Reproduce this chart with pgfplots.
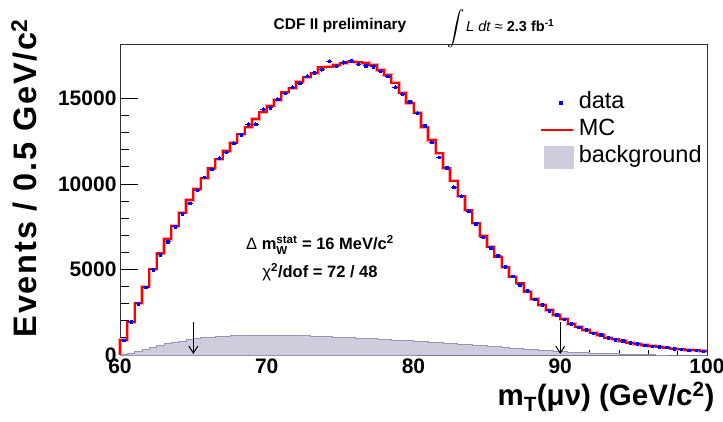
\documentclass[border=0pt]{standalone}
\usepackage{fontspec}
\setmainfont{Liberation Sans}
\usepackage{amsmath}
\usepackage{pgfplots}
\pgfplotsset{compat=1.18}
\usetikzlibrary{arrows.meta}
\definecolor{bgfill}{RGB}{205,205,222}
\definecolor{bgdraw}{RGB}{150,150,180}
\definecolor{datablue}{RGB}{0,0,255}
\begin{document}
\begin{tikzpicture}
\useasboundingbox (-120pt,-66pt) rectangle (603pt,355pt);
\begin{axis}[
  scale only axis, width=587pt, height=310.5pt,
  xmin=60, xmax=100, ymin=0, ymax=18150,
  xtick={60,70,80,90,100}, minor x tick num=4,
  ytick={0,5000,10000,15000}, minor y tick num=4,
  tick align=inside, tick pos=left,
  xtick style={/pgfplots/major tick length=9.3pt,/pgfplots/minor tick length=4.65pt},
  ytick style={/pgfplots/major tick length=17.6pt,/pgfplots/minor tick length=8.8pt},
  every tick/.style={black, line width=0.8pt},
  axis line style={black!80, line width=0.9pt},
  scaled ticks=false,
  /pgf/number format/set thousands separator={},
  /pgf/number format/assume math mode=true,
  ticklabel style={font=\fontsize{21}{21}\selectfont\bfseries},
  xlabel={\textbf{m$_{\text{\textbf{T}}}$(μν) (GeV/c$^{\text{\textbf{2}}}$)}},
  ylabel={\addfontfeature{LetterSpace=5.5}\textbf{Events / 0.5 GeV/c$^{\text{\textbf{2}}}$}},
  xlabel style={font=\fontsize{29.5}{29.5}\selectfont, at={(axis description cs:1.0187,-0.135)}, anchor=east},
  ylabel style={font=\fontsize{32.5}{32.5}\selectfont, at={(axis description cs:-0.1635,1.097)}, anchor=east},
  clip=false,
  legend style={at={(rel axis cs:0.7155,0.849)}, anchor=north west, draw=none, fill=none,
    inner sep=0pt, row sep=4pt, font=\fontsize{23.5}{23.5}\selectfont,
    nodes={inner sep=1pt, text height=16pt, text depth=5pt},
    /tikz/every even column/.append style={column sep=0pt}},
  legend cell align=left,
]
% background
\addplot[const plot mark left, fill=bgfill, draw=bgdraw, line width=0.6pt, forget plot] table {
60 40
60.5 100
61 200
61.5 330
62 450
62.5 570
63 660
63.5 740
64 820
64.5 900
65 960
65.5 1010
66 1050
66.5 1080
67 1110
67.5 1130
68 1150
68.5 1160
69 1170
69.5 1170
70 1170
70.5 1165
71 1160
71.5 1150
72 1140
72.5 1130
73 1110
73.5 1090
74 1070
74.5 1050
75 1030
75.5 1010
76 990
76.5 970
77 950
77.5 930
78 905
78.5 880
79 860
79.5 835
80 810
80.5 780
81 750
81.5 720
82 690
82.5 660
83 630
83.5 600
84 570
84.5 540
85 510
85.5 480
86 450
86.5 420
87 390
87.5 360
88 320
88.5 290
89 260
89.5 230
90 210
90.5 180
91 160
91.5 140
92 120
92.5 105
93 90
93.5 80
94 70
94.5 60
95 50
95.5 40
96 25
96.5 10
97 0
97.5 0
98 0
98.5 0
99 0
99.5 0
100 0
} \closedcycle;
% MC (halo + line)
\pgfplotstableread{
x y
60 0
60 877
60.5 1910
61 3020
61.5 3990
62 5010
62.5 5940
63 6780
63.5 7540
64 8320
64.5 9060
65 9700
65.5 10330
66 10910
66.5 11440
67 11920
67.5 12410
68 12900
68.5 13310
69 13790
69.5 14180
70 14570
70.5 14900
71 15350
71.5 15590
72 15970
72.5 16230
73 16460
73.5 16810
74 16850
74.5 16950
75 17050
75.5 17140
76 17100
76.5 17080
77 16950
77.5 16660
78 16370
78.5 15920
79 15330
79.5 14710
80 14160
80.5 13310
81 12570
81.5 11790
82 10910
82.5 10200
83 9270
83.5 8450
84 7700
84.5 6950
85 6330
85.5 5750
86 5120
86.5 4580
87 4190
87.5 3700
88 3270
88.5 2920
89 2630
89.5 2340
90 2100
90.5 1810
91 1650
91.5 1460
92 1300
92.5 1170
93 1010
93.5 920
94 820
94.5 720
95 640
95.5 580
96 530
96.5 490
97 430
97.5 370
98 330
98.5 290
99 270
99.5 230
100 230
}\mctable
\addplot[const plot mark left, red!35, line width=3.4pt, forget plot] table {\mctable};
\addplot[const plot mark left, red, line width=2pt, forget plot] table {\mctable};
% data
\addplot[only marks, mark=square*, mark size=1.2pt, datablue, forget plot,
  error bars/.cd, y dir=both, y explicit, x dir=both, x fixed=0.2,
  error bar style={datablue, line width=0.8pt}, error mark=none]
  table[x=x, y=y, y error=e] {
x y e
60.25 880 30
60.75 1950 45
61.25 3000 55
61.75 3950 63
62.25 4990 70
62.75 5860 77
63.25 6620 81
63.75 7500 87
64.25 8270 91
64.75 8870 94
65.25 9620 98
65.75 10380 102
66.25 10850 104
66.75 11500 107
67.25 11850 109
67.75 12380 111
68.25 12880 113
68.75 13500 116
69.25 13480 116
69.75 14360 120
70.25 14450 120
70.75 14950 122
71.25 15300 124
71.75 15650 125
72.25 15900 126
72.75 16300 128
73.25 16500 128
73.75 16700 129
74.25 17180 131
74.75 16890 130
75.25 17100 131
75.75 17200 131
76.25 17000 130
76.75 16900 130
77.25 16850 130
77.75 16600 129
78.25 16300 128
78.75 15650 125
79.25 15250 123
79.75 14800 122
80.25 14150 119
80.75 13400 116
81.25 12450 112
81.75 11550 107
82.25 10950 105
82.75 9820 99
83.25 9300 96
83.75 8420 92
84.25 7680 88
84.75 6900 83
85.25 6270 79
85.75 5800 76
86.25 5160 72
86.75 4600 68
87.25 4120 64
87.75 3760 61
88.25 3250 57
88.75 2950 54
89.25 2600 51
89.75 2360 49
90.25 2080 46
90.75 1830 43
91.25 1630 40
91.75 1470 38
92.25 1290 36
92.75 1180 34
93.25 1020 32
93.75 900 30
94.25 830 29
94.75 720 27
95.25 650 25
95.75 590 24
96.25 520 23
96.75 480 22
97.25 440 21
97.75 360 19
98.25 340 18
98.75 280 17
99.25 270 16
99.75 230 15
};
% legend
\addlegendimage{legend image code/.code={\path[draw=none,fill=none] (0pt,0pt) rectangle (37pt,0pt); \fill[datablue] (18.5pt,-1.6pt) rectangle (21.5pt,1.6pt);}}
\addlegendentry{data}
\addlegendimage{legend image code/.code={\path[draw=none,fill=none] (0pt,0pt) rectangle (37pt,0pt); \draw[red, line width=1.2pt] (0pt,0pt) -- (32pt,0pt);}}
\addlegendentry{MC}
\addlegendimage{legend image code/.code={\path[draw=none,fill=none] (0pt,0pt) rectangle (37pt,0pt); \fill[bgfill] (3pt,-11pt) rectangle (32pt,11pt);}}
\addlegendentry{background}
% arrows
\draw[-{Straight Barb[length=7pt,width=9pt]}, line width=1pt] (axis cs:65,1900) -- (axis cs:65,60);
\draw[-{Straight Barb[length=7pt,width=9pt]}, line width=1pt] (axis cs:90,1950) -- (axis cs:90,60);
% annotations
\node[font=\fontsize{16.5}{16.5}\selectfont] at (axis cs:73.63,6430) {Δ \textbf{m}$_{\text{\textbf{W}}}^{\text{\textbf{stat}}}$ \textbf{= 16 MeV/c$^{\text{\textbf{2}}}$}};
\node[font=\fontsize{16.5}{16.5}\selectfont] at (axis cs:73.63,4850) {χ$^{\text{\textbf{2}}}$\textbf{/dof = 72 / 48}};
% title
\node[font=\fontsize{15.5}{15.5}\selectfont\bfseries] at (rel axis cs:0.3748,1.062) {CDF II preliminary};
\node[font=\fontsize{17}{17}\selectfont, inner sep=0pt] at (rel axis cs:0.5724,1.05) {$\displaystyle\int$};
\node[anchor=west, font=\fontsize{14.5}{14.5}\selectfont, inner sep=0pt] at (rel axis cs:0.5894,1.062) {\textit{L dt} ≈ \textbf{2.3 fb$^{\text{\textbf{-1}}}$}};
\end{axis}
\end{tikzpicture}
\end{document}
